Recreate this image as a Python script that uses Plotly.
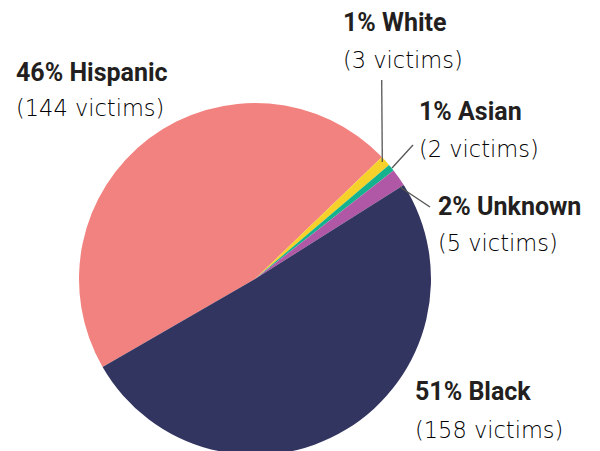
import plotly.graph_objects as go

groups = ["Hispanic", "White", "Asian", "Unknown", "Black"]
victims = [144, 3, 2, 5, 158]
percents = ["46%", "1%", "1%", "2%", "51%"]
colors = ["#f2827f", "#f6d12a", "#14b38e", "#b058a6", "#333561"]

W, H = 600, 460
OFF = 8  # page body margin offset


def px(x):
    return (x - OFF) / W


def py(y):
    return 1 - (y - OFF) / H


fig = go.Figure(go.Pie(
    labels=groups,
    values=victims,
    sort=False,
    direction="clockwise",
    rotation=240,
    marker=dict(colors=colors, line=dict(width=0)),
    textinfo="none",
    hoverinfo="label+value+percent",
    showlegend=False,
    domain=dict(x=[px(79), px(431)], y=[py(455), py(103)]),
))

# label anchor positions in reference pixels (left x, bold-line middle y, light-line middle y)
label_pos = {
    "Hispanic": (14, 72.5, 107.5),
    "White": (340.5, 22.5, 60.5),
    "Asian": (416.5, 111.7, 149.2),
    "Unknown": (435.5, 206.7, 242.5),
    "Black": (413, 391.3, 429.5),
}

annotations = []
for g, v, p in zip(groups, victims, percents):
    x, yb, yl = label_pos[g]
    annotations.append(dict(
        text=f"<b>{p} {g}</b>", x=px(x), y=py(yb), xref="paper", yref="paper",
        xanchor="left", yanchor="middle", showarrow=False,
        font=dict(family="Roboto", size=25, color="#231f20"),
    ))
    annotations.append(dict(
        text=f"({v} victims)", x=px(x), y=py(yl), xref="paper", yref="paper",
        xanchor="left", yanchor="middle", showarrow=False,
        font=dict(family="DejaVu Sans", size=22.5, color="#000000", weight=300),
    ))

leaders = [((381.7, 80), (382.3, 162)), ((413, 145), (392, 168)), ((400, 187), (430, 207))]
shapes = []
for (x0, y0), (x1, y1) in leaders:
    shapes.append(dict(type="line", xref="paper", yref="paper",
                       x0=px(x0), y0=py(y0), x1=px(x1), y1=py(y1),
                       line=dict(color="#555555", width=1.3)))

fig.update_layout(
    width=W, height=H,
    margin=dict(l=0, r=0, t=0, b=0),
    paper_bgcolor="white",
    plot_bgcolor="white",
    annotations=annotations,
    shapes=shapes,
)

fig.write_html("out.html")
